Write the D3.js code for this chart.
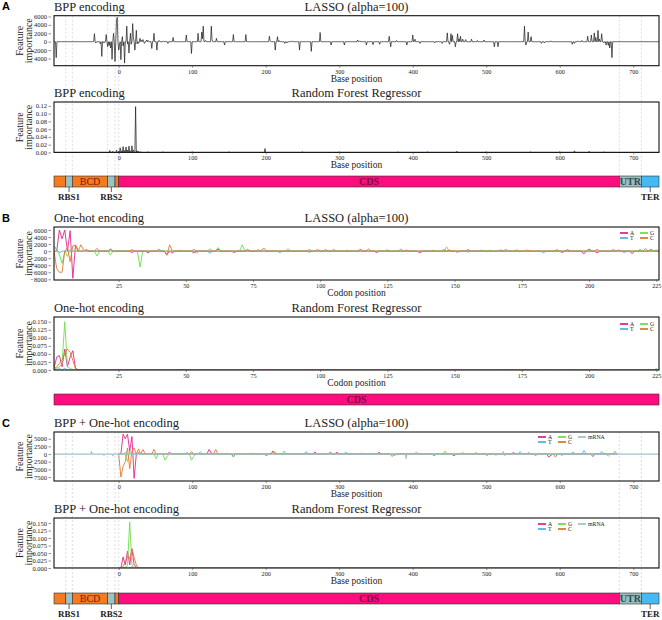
<!DOCTYPE html>
<html lang="en">
<head>
    <meta charset="UTF-8">
    <title>Feature importance by encoding and model</title>
    <style>
        body {
            margin: 0;
            padding: 0;
            background-color: #ffffff;
        }
    </style>
</head>
<body>
    <div id="chart"></div>

    <script src="https://d3js.org/d3.v7.min.js"></script>
    <script>
        const width = 662;
        const height = 620;

        // ---- data ----
        const baseTicks = [0, 100, 200, 300, 400, 500, 600, 700];
        const codonTicks = [25, 50, 75, 100, 125, 150, 175, 200, 225];
        const nucleotides = ["A", "T", "G", "C"];

        // construct regions (base positions)
        const regionNames = ["", "", "BCD", "", "", "CDS", "UTR", ""];
        const regionStarts = [-88, -72, -63, -15, -5, 0, 681, 711];
        const regionEnds = [-72, -63, -15, -5, 0, 681, 711, 735];
        const regionKinds = ["spacer", "rbs", "spacer", "rbs", "spacer", "cds", "utr", "ter"];
        const markerLabels = ["RBS1", "RBS2", "TER"];
        const markerPos = [-67.5, -10, 723];
        const guidePos = [-72, -63, -15, -5, 0, 681, 711];

        // A: BPP encoding, [base position, importance]
        const lassoBpp = [
            [-85, -3800], [-33, 1900], [-31, -300], [-25, -500], [-23, -3500], [-20, -300],
            [-17, 1700], [-15, -1200], [-13, -900], [-11, -1500], [-9, -4200], [-7, 2000],
            [-5, -4700], [-3, 5000], [-2, 5800], [0, -2000], [1, -900], [3, -4300], [5, 1200],
            [6, -1000], [8, -5100], [11, 3700], [12, -500], [14, -2700], [16, 2000], [17, -600],
            [19, 4300], [20, 1000], [22, -2000], [24, 2700], [25, -500], [27, -400], [29, 800],
            [31, 300], [33, 500], [35, -400], [38, 400], [40, 300], [45, -1600], [48, 2000],
            [52, -2000], [55, 300], [61, 200], [67, -400], [74, 1000], [92, 1600], [99, -2800],
            [108, 2000], [113, 2300], [114, 700], [115, 3700], [118, 300], [126, 3700], [127, 500],
            [133, 800], [144, -800], [156, 1700], [173, 1700], [205, 1300], [206, 300],
            [213, -2000], [216, 1200], [218, 300], [226, -400], [229, -300], [236, 200],
            [246, -2000], [262, -2300], [274, 2200], [289, -800], [307, -800], [325, 400],
            [328, 200], [337, -800], [346, -700], [355, -600], [368, 1300], [370, -1200],
            [378, 300], [392, -800], [400, 1600], [403, 600], [410, -400], [430, -300],
            [440, -400], [447, 2100], [450, -600], [452, 1900], [454, 1500], [458, -1200],
            [461, 1900], [463, 700], [465, 1300], [468, 600], [472, 500], [480, 600], [488, 300],
            [497, 400], [511, -1200], [516, -1200], [552, 3700], [554, -800], [557, 2300],
            [561, 1200], [575, -400], [579, -300], [588, 200], [617, -600], [620, -400],
            [625, 200], [630, 300], [638, 1300], [643, 1600], [647, 2100], [649, 1000],
            [652, 2700], [654, 600], [657, 1900], [660, -300], [663, -800], [666, -900],
            [668, -1500], [671, -3800]
        ];
        const rfBpp = [
            [-12, 0.005], [-8, 0.003], [-3, 0.006], [0, 0.003], [2, 0.012], [4, 0.004],
            [6, 0.015], [8, 0.005], [10, 0.014], [12, 0.006], [14, 0.016], [16, 0.004],
            [18, 0.017], [20, 0.006], [23, 0.118], [25, 0.004], [27, 0.003], [30, 0.002],
            [40, 0.002], [60, 0.002], [100, 0.002], [150, 0.002], [199, 0.01], [250, 0.002],
            [300, 0.002], [380, 0.002], [420, 0.002], [460, 0.003], [500, 0.002], [560, 0.002],
            [600, 0.002], [620, 0.004], [640, 0.003], [660, 0.002]
        ];

        // B: one-hot encoding, [codon position, importance]
        const lassoHotA = [
            [3, 6000], [4, 3500], [5, 6000], [7, 5800], [8, -7700], [9, 1700], [13, 400],
            [22, 500], [30, -400], [36, -500], [43, -1000], [45, -500], [53, -500], [62, 600],
            [68, -400], [115, 500], [121, -400], [137, -500], [151, -300], [155, 400], [167, 300],
            [190, -400], [192, 400], [198, -800], [200, 600], [203, -500], [216, -700], [223, 500]
        ];
        const lassoHotT = [
            [1, 1500], [2, 500], [3, -500], [13, 400], [22, 600], [30, 400], [40, 600], [53, 500],
            [59, -600], [85, -400], [96, 500], [102, 500], [105, 500], [130, 600], [146, 500],
            [160, 300], [169, 500], [183, -500], [188, 400], [209, 500], [213, -400], [219, 500],
            [221, 800], [225, 300]
        ];
        const lassoHotG = [
            [1, 1000], [2, 300], [3, -1000], [4, -3500], [6, -1500], [7, 500], [17, -1400],
            [22, -1100], [33, -4500], [48, 300], [54, -600], [59, 700], [62, 1000], [71, 1800],
            [73, 500], [88, 700], [96, -400], [110, 300], [125, 400], [142, 300], [147, 1200],
            [155, -300], [163, 300], [173, 400], [188, 400], [219, 300], [223, 300]
        ];
        const lassoHotC = [
            [2, -5000], [3, -6000], [4, -6000], [6, 1000], [7, -3000], [8, 1500], [9, 1700],
            [11, 1800], [12, 300], [17, 800], [30, 300], [43, -1200], [44, 1800], [73, 400],
            [77, 400], [79, 900], [99, 500], [118, 600], [132, 300], [148, 300], [177, 300],
            [203, 500], [211, 300]
        ];
        const rfHotA = [[1, 0.005], [2, 0.040], [3, 0.045], [4, 0.01], [5, 0.065], [6, 0.01], [7, 0.04], [8, 0.06], [9, 0.005]];
        const rfHotT = [[1, 0.003], [3, 0.005], [5, 0.005], [225, 0.004]];
        const rfHotG = [[1, 0.01], [2, 0.005], [3, 0.01], [4, 0.02], [5, 0.150], [6, 0.01], [7, 0.005]];
        const rfHotC = [[2, 0.01], [3, 0.02], [4, 0.03], [5, 0.05], [6, 0.065], [7, 0.055], [8, 0.03], [9, 0.005]];

        // C: BPP + one-hot encoding, [base position (every 3rd base), importance]
        const lassoMixA = [
            [6, 6500], [9, 5000], [12, 6500], [15, 1000], [18, 5700], [21, -7900], [27, 500],
            [69, 600], [123, 1500], [126, 300], [201, -500], [210, 1000], [213, 400], [267, 700],
            [288, 600], [297, 600], [354, 600], [375, -400], [456, -600], [537, 500], [585, -1000],
            [588, -400], [645, -800]
        ];
        const lassoMixT = [
            [9, 500], [93, 500], [111, 700], [183, 300], [255, 800], [309, 600], [405, 600],
            [501, -500], [546, 800], [558, 500], [618, 700], [633, 1200], [657, 800], [675, 900]
        ];
        const lassoMixG = [
            [12, -2500], [15, 1000], [51, -1500], [63, -2000], [66, -700], [99, -2000],
            [102, -800], [156, -1000], [225, 1000], [330, 300], [444, 1000], [468, 500],
            [513, -400], [603, -500], [666, -700]
        ];
        const lassoMixC = [
            [3, -7500], [6, -4000], [9, -2500], [12, 2000], [15, -4800], [18, 1000], [21, 2000],
            [27, 1700], [33, 1500], [48, 1500], [99, 800], [132, 1500], [156, -800], [210, 800],
            [297, 400], [372, -800], [429, -600], [486, 400], [567, -500], [594, -1000]
        ];
        const lassoMixMrna = [[-37, 800], [-20, -400], [-8, -600], [391, -1500], [523, 800], [525, -500]];
        const rfMixA = [[6, 0.037], [9, 0.01], [12, 0.056], [15, 0.01], [18, 0.063], [21, 0.01], [24, 0.003]];
        const rfMixT = [[9, 0.003], [18, 0.004]];
        const rfMixG = [[12, 0.01], [15, 0.153], [18, 0.01]];
        const rfMixC = [[6, 0.005], [9, 0.02], [12, 0.04], [15, 0.03], [18, 0.065], [21, 0.035], [24, 0.01]];
        const rfMixMrna = [];

        // ---- styling ----
        const left = 54, right = 659;
        const serif = "'Liberation Serif', 'DejaVu Serif', serif";
        const nucColor = { A: "#e2268a", T: "#4db6e8", G: "#6fdc4f", C: "#e2782c", mRNA: "#a2c3cc" };
        const regionColor = { spacer: "#f47b20", rbs: "#9dc2c4", cds: "#ff0c7e", utr: "#98bdbf", ter: "#45b9f4" };
        const regionText = { spacer: "#7a1a06", cds: "#7b0a3a", utr: "#2f4a50" };

        const svg = d3.select("#chart").append("svg")
            .attr("width", width)
            .attr("height", height);

        const baseX = d3.scaleLinear().domain([-88, 735]).range([left, right]);
        const codonX = d3.scaleLinear().domain([1, 226]).range([left, right]);

        // turn sparse [pos, value] readings into a stepped series (zero elsewhere)
        function dense(points, lo, hi, step) {
            const m = new Map(points);
            return d3.range(lo, hi + 1, step).map(p => [p, m.get(p) || 0]);
        }

        function txt(sel, size) {
            return sel.style("font-family", serif).style("font-size", size + "px").attr("fill", "#222");
        }

        function drawPanel(p) {
            const g = svg.append("g");
            const y = d3.scaleLinear().domain(p.yDomain).range([p.bottom, p.top]);
            const x = p.x;

            const clipId = "clip" + Math.round(p.top);
            g.append("clipPath").attr("id", clipId)
                .append("rect")
                .attr("x", left).attr("y", p.top)
                .attr("width", right - left).attr("height", p.bottom - p.top);

            const line = d3.line().x(d => x(d[0])).y(d => y(d[1]));
            const lines = g.append("g").attr("clip-path", `url(#${clipId})`);
            p.series.forEach(s => {
                lines.append("path")
                    .datum(dense(s.data, s.lo, s.hi, s.step || 1))
                    .attr("fill", "none")
                    .attr("stroke", s.color)
                    .attr("stroke-width", s.width || 0.9)
                    .attr("stroke-linejoin", "round")
                    .attr("d", line);
            });

            // frame
            g.append("rect")
                .attr("x", left).attr("y", p.top)
                .attr("width", right - left).attr("height", p.bottom - p.top)
                .attr("fill", "none").attr("stroke", "#111").attr("stroke-width", 1.1);

            // axes
            const yAxis = d3.axisLeft(y).tickValues(p.yTicks).tickFormat(p.yFmt)
                .tickSize(2.5).tickPadding(1.5);
            g.append("g").attr("transform", `translate(${left - 3},0)`).call(yAxis)
                .call(a => a.select(".domain").remove())
                .call(a => a.selectAll("line").attr("stroke", "#444").attr("stroke-width", 0.6))
                .selectAll("text").call(txt, 6.5);

            const xAxis = d3.axisBottom(x).tickValues(p.xTicks).tickFormat(d3.format("d"))
                .tickSize(2).tickPadding(1.5);
            g.append("g").attr("transform", `translate(0,${p.bottom})`).call(xAxis)
                .call(a => a.select(".domain").remove())
                .call(a => a.selectAll("line").attr("stroke", "#444").attr("stroke-width", 0.6))
                .selectAll("text").call(txt, 6.2);

            g.append("text")
                .attr("x", (left + right) / 2).attr("y", p.bottom + 16)
                .attr("text-anchor", "middle")
                .call(txt, 9.5)
                .text(p.xLabel);

            const midY = (p.top + p.bottom) / 2;
            const yt = g.append("text")
                .attr("transform", `translate(24,${midY}) rotate(-90)`)
                .attr("text-anchor", "middle")
                .call(txt, 10);
            yt.append("tspan").attr("x", 0).attr("dy", "-0.15em").text("Feature");
            yt.append("tspan").attr("x", 0).attr("dy", "0.9em").text("importance");

            // titles
            g.append("text").attr("x", left).attr("y", p.top - 5)
                .call(txt, 12.5).text(p.titleLeft);
            g.append("text").attr("x", (left + right) / 2).attr("y", p.top - 5)
                .attr("text-anchor", "middle")
                .call(txt, 12.5).text(p.titleRight);

            if (p.legend) drawLegend(p.legend);
        }

        function drawLegend(lg) {
            const g = svg.append("g");
            lg.keys.forEach((k, i) => {
                const cx = k === "mRNA" ? lg.x + 40 : lg.x + Math.floor(i / 2) * 20;
                const cy = k === "mRNA" ? lg.y : lg.y + (i % 2) * 5;
                g.append("line")
                    .attr("x1", cx).attr("x2", cx + 8)
                    .attr("y1", cy).attr("y2", cy)
                    .attr("stroke", nucColor[k]).attr("stroke-width", 1.8);
                g.append("text")
                    .attr("x", cx + 10).attr("y", cy + 2)
                    .call(txt, 5.8)
                    .text(k);
            });
        }

        function drawGuides(top, bottom) {
            svg.append("g").selectAll("line")
                .data(guidePos)
                .enter().append("line")
                .attr("x1", d => baseX(d)).attr("x2", d => baseX(d))
                .attr("y1", top).attr("y2", bottom)
                .attr("stroke", "#c8c8c8")
                .attr("stroke-width", 0.6)
                .attr("stroke-dasharray", "2,2");
        }

        function drawConstruct(top, full) {
            const h = 11;
            const g = svg.append("g");
            const regions = regionNames.map((n, i) => ({
                name: n, start: regionStarts[i], end: regionEnds[i], kind: regionKinds[i]
            }));
            const shown = full ? regions : [{ name: "CDS", start: 1, end: 226, kind: "cds" }];
            const xs = full ? baseX : codonX;
            g.selectAll("rect")
                .data(shown)
                .enter().append("rect")
                .attr("x", d => xs(d.start)).attr("y", top)
                .attr("width", d => xs(d.end) - xs(d.start)).attr("height", h)
                .attr("fill", d => regionColor[d.kind])
                .attr("stroke", "#333").attr("stroke-width", 0.6);
            g.selectAll("text.region")
                .data(shown.filter(d => d.name))
                .enter().append("text")
                .attr("class", "region")
                .attr("x", d => xs((d.start + d.end) / 2)).attr("y", top + h / 2 + 3.3)
                .attr("text-anchor", "middle")
                .call(txt, 10)
                .style("font-weight", d => d.kind === "utr" || d.kind === "cds" ? "bold" : "normal")
                .style("fill", d => regionText[d.kind])
                .text(d => d.name);
            if (full) {
                markerLabels.forEach((m, i) => {
                    const mx = baseX(markerPos[i]);
                    g.append("line")
                        .attr("x1", mx).attr("x2", mx)
                        .attr("y1", top + h).attr("y2", top + h + 5)
                        .attr("stroke", "#333").attr("stroke-width", 0.8);
                    g.append("text")
                        .attr("x", mx).attr("y", top + h + 13)
                        .attr("text-anchor", "middle")
                        .call(txt, 9)
                        .style("font-weight", "bold")
                        .text(m);
                });
            }
        }

        function tag(label, y) {
            svg.append("text")
                .attr("x", 2).attr("y", y)
                .style("font-family", "'Liberation Sans', Arial, sans-serif")
                .style("font-weight", "bold")
                .style("font-size", "11px")
                .text(label);
        }

        const hotSeries = (a, t, g, c) => [
            { data: a, color: nucColor.A, lo: 1, hi: 226 },
            { data: t, color: nucColor.T, lo: 1, hi: 226 },
            { data: g, color: nucColor.G, lo: 1, hi: 226 },
            { data: c, color: nucColor.C, lo: 1, hi: 226 }
        ];
        // the mRNA track is drawn last, so its zero line sits on top
        const mixSeries = (a, t, g, c, m) => [
            { data: a, color: nucColor.A, lo: 0, hi: 678, step: 3 },
            { data: t, color: nucColor.T, lo: 0, hi: 678, step: 3 },
            { data: g, color: nucColor.G, lo: 0, hi: 678, step: 3 },
            { data: c, color: nucColor.C, lo: 0, hi: 678, step: 3 },
            { data: m, color: nucColor.mRNA, lo: -88, hi: 735, step: 1, width: 1.2 }
        ];

        // ---- panel A ----
        drawGuides(15.7, 176);
        tag("A", 10);
        drawPanel({
            top: 15.7, bottom: 65.7, x: baseX, xTicks: baseTicks, xLabel: "Base position",
            yDomain: [-5714, 6190], yTicks: [-4000, -2000, 0, 2000, 4000, 6000], yFmt: d3.format("d"),
            titleLeft: "BPP encoding", titleRight: "LASSO (alpha=100)",
            series: [{ data: lassoBpp, color: "#1a1a1a", lo: -88, hi: 735, width: 0.7 }]
        });
        drawPanel({
            top: 102, bottom: 152.4, x: baseX, xTicks: baseTicks, xLabel: "Base position",
            yDomain: [0, 0.13], yTicks: [0, 0.02, 0.04, 0.06, 0.08, 0.1, 0.12], yFmt: d3.format(".2f"),
            titleLeft: "BPP encoding", titleRight: "Random Forest Regressor",
            series: [{ data: rfBpp, color: "#1a1a1a", lo: -88, hi: 735, width: 0.7 }]
        });
        drawConstruct(176, true);

        // ---- panel B ----
        tag("B", 222);
        drawPanel({
            top: 227, bottom: 280, x: codonX, xTicks: codonTicks, xLabel: "Codon position",
            yDomain: [-8200, 6850], yTicks: [-8000, -6000, -4000, -2000, 0, 2000, 4000, 6000], yFmt: d3.format("d"),
            titleLeft: "One-hot encoding", titleRight: "LASSO (alpha=100)",
            series: hotSeries(lassoHotA, lassoHotT, lassoHotG, lassoHotC),
            legend: { x: 620, y: 233, keys: nucleotides }
        });
        drawPanel({
            top: 317, bottom: 370, x: codonX, xTicks: codonTicks, xLabel: "Codon position",
            yDomain: [0, 0.1646], yTicks: [0, 0.025, 0.05, 0.075, 0.1, 0.125, 0.15], yFmt: d3.format(".3f"),
            titleLeft: "One-hot encoding", titleRight: "Random Forest Regressor",
            series: hotSeries(rfHotA, rfHotT, rfHotG, rfHotC),
            legend: { x: 620, y: 324, keys: nucleotides }
        });
        drawConstruct(394, false);

        // ---- panel C ----
        drawGuides(432, 593);
        tag("C", 427);
        drawPanel({
            top: 432, bottom: 481, x: baseX, xTicks: baseTicks, xLabel: "Base position",
            yDomain: [-8800, 7200], yTicks: [-7500, -5000, -2500, 0, 2500, 5000], yFmt: d3.format("d"),
            titleLeft: "BPP + One-hot encoding", titleRight: "LASSO (alpha=100)",
            series: mixSeries(lassoMixA, lassoMixT, lassoMixG, lassoMixC, lassoMixMrna),
            legend: { x: 538, y: 437, keys: ["A", "T", "G", "C", "mRNA"] }
        });
        drawPanel({
            top: 518, bottom: 568, x: baseX, xTicks: baseTicks, xLabel: "Base position",
            yDomain: [0, 0.1668], yTicks: [0, 0.025, 0.05, 0.075, 0.1, 0.125, 0.15], yFmt: d3.format(".3f"),
            titleLeft: "BPP + One-hot encoding", titleRight: "Random Forest Regressor",
            series: mixSeries(rfMixA, rfMixT, rfMixG, rfMixC, rfMixMrna),
            legend: { x: 538, y: 524, keys: ["A", "T", "G", "C", "mRNA"] }
        });
        drawConstruct(593, true);
    </script>
</body>
</html>
